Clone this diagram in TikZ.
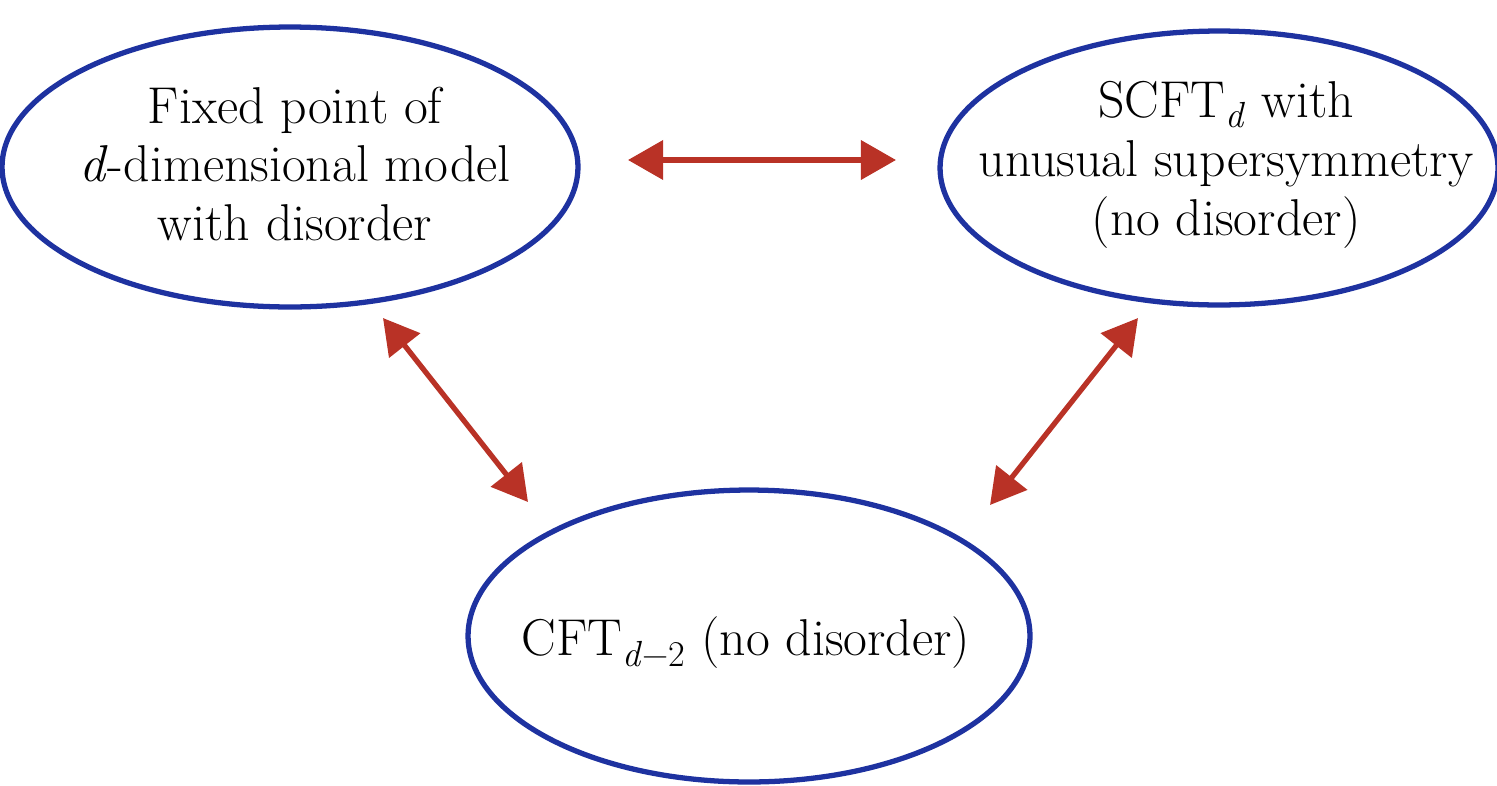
\documentclass[tikz,border=0pt]{standalone}
\usepackage{fontspec}
\usetikzlibrary{arrows.meta}
\definecolor{ellblue}{RGB}{30,50,160}
\definecolor{arrred}{RGB}{185,50,38}
\tikzset{
  label text/.style={align=center, inner sep=0pt, font=\fontsize{29.5}{33.5}\selectfont},
  ring/.style={draw=ellblue, line width=3pt},
  dbl/.style={arrred, line width=3pt, {Triangle[length=20pt,width=22pt]}-{Triangle[length=20pt,width=22pt]}}
}
\begin{document}
\begin{tikzpicture}[x=0.02cm,y=-0.02cm]
\useasboundingbox (0,0) rectangle (1497,785);
\node[label text] (fp) at (295,164)
  {Fixed point of\\ \textit{d}-dimensional model\\ with disorder};
\node[label text] (scft) at (1226,165)
  {SCFT\textsubscript{\textit{d}} with\\ unusual supersymmetry\\ (no disorder)};
\node[label text] (cft) at (746,643)
  {CFT\textsubscript{\textit{d}−2} (no disorder)};
\draw[ring] (290,167) ellipse [x radius=5.76cm, y radius=2.8cm];
\draw[ring] (1219,168) ellipse [x radius=5.58cm, y radius=2.74cm];
\draw[ring] (749,636) ellipse [x radius=5.62cm, y radius=2.92cm];
\coordinate (h1) at (628,160);
\coordinate (h2) at (896,160);
\coordinate (l1) at (383,318);
\coordinate (l2) at (528,502);
\coordinate (r1) at (1138,318);
\coordinate (r2) at (990,505);
\draw[dbl] (h1) -- (h2);
\draw[dbl] (l1) -- (l2);
\draw[dbl] (r1) -- (r2);
\end{tikzpicture}
\end{document}
